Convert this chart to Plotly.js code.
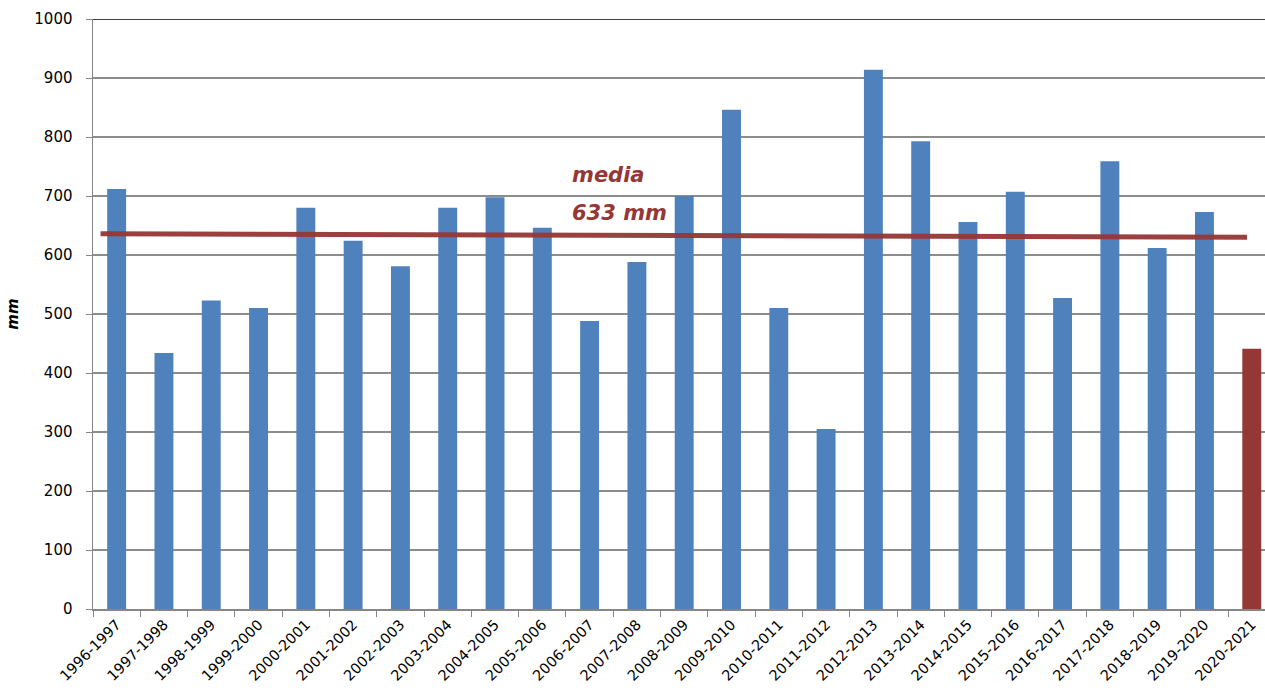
<!DOCTYPE html>
<html>
<head>
<meta charset="utf-8">
<script src="https://cdn.plot.ly/plotly-3.0.1.min.js"></script>
<style>html,body{margin:0;padding:0;background:#fff;}#chart{width:1265px;height:697px;}</style>
</head>
<body>
<div id="chart"></div>
<script>
const seasons = ["1996-1997","1997-1998","1998-1999","1999-2000","2000-2001","2001-2002","2002-2003","2003-2004","2004-2005","2005-2006","2006-2007","2007-2008","2008-2009","2009-2010","2010-2011","2011-2012","2012-2013","2013-2014","2014-2015","2015-2016","2016-2017","2017-2018","2018-2019","2019-2020","2020-2021"];
const rainfall = [712,434,523,510,680,624,581,680,698,646,488,588,700,846,510,305,914,793,656,707,527,759,612,673,441];
const barColors = ["#4F81BD","#4F81BD","#4F81BD","#4F81BD","#4F81BD","#4F81BD","#4F81BD","#4F81BD","#4F81BD","#4F81BD","#4F81BD","#4F81BD","#4F81BD","#4F81BD","#4F81BD","#4F81BD","#4F81BD","#4F81BD","#4F81BD","#4F81BD","#4F81BD","#4F81BD","#4F81BD","#4F81BD","#953735"];
const mediaX = [-0.34, 23.9];
const mediaY = [636, 630];
const mediaLabel = ["media", "633 mm"];
const yTicks = [0,100,200,300,400,500,600,700,800,900,1000];

const xr = [-0.5, 24.28];
const traces = [
  {type:"bar", x:seasons, y:rainfall, marker:{color:barColors}, width:0.4, hoverinfo:"x+y"},
  {type:"scatter", mode:"lines", x:mediaX, y:mediaY, xaxis:"x2", line:{color:"#953735", width:5}, opacity:0.95}
];
const layout = {
  width:1265, height:697,
  margin:{l:93, r:0, t:19, b:88},
  paper_bgcolor:"#fff", plot_bgcolor:"#fff",
  showlegend:false,
  font:{family:"DejaVu Sans, Verdana, sans-serif", color:"#000"},
  xaxis:{type:"category", range:xr, tickson:"boundaries", ticks:"outside", ticklen:6, tickcolor:"#868686",
         showline:true, linecolor:"#868686", linewidth:1.5, showgrid:false, tickangle:-45,
         tickfont:{size:14.5, color:"#000"}, fixedrange:true},
  xaxis2:{overlaying:"x", range:xr, visible:false, fixedrange:true},
  yaxis:{range:[0,1000], tickvals:yTicks, ticks:"outside", ticklen:6, tickcolor:"#868686",
         showline:true, linecolor:"#868686", linewidth:1.5, gridcolor:"#8c8c8c", gridwidth:1.2,
         tickfont:{size:15, color:"#000"}, zeroline:false, ticklabelstandoff:10,
         title:{text:"<b><i>mm</i></b>", font:{size:15, color:"#000"}, standoff:12}, fixedrange:true},
  shapes:[{type:"line", xref:"paper", yref:"y", x0:0, x1:1, y0:1000, y1:1000, line:{color:"#000", width:1.5}}],
  annotations:[
    {xref:"x2", yref:"y", x:9.58, y:735, xanchor:"left", yanchor:"middle", showarrow:false, text:"<b><i>"+mediaLabel[0]+"</i></b>", font:{size:21, color:"#953735"}},
    {xref:"x2", yref:"y", x:9.58, y:671, xanchor:"left", yanchor:"middle", showarrow:false, text:"<b><i>"+mediaLabel[1]+"</i></b>", font:{size:21, color:"#953735"}}
  ]
};
Plotly.newPlot("chart", traces, layout, {displayModeBar:false, staticPlot:true});
</script>
</body>
</html>
